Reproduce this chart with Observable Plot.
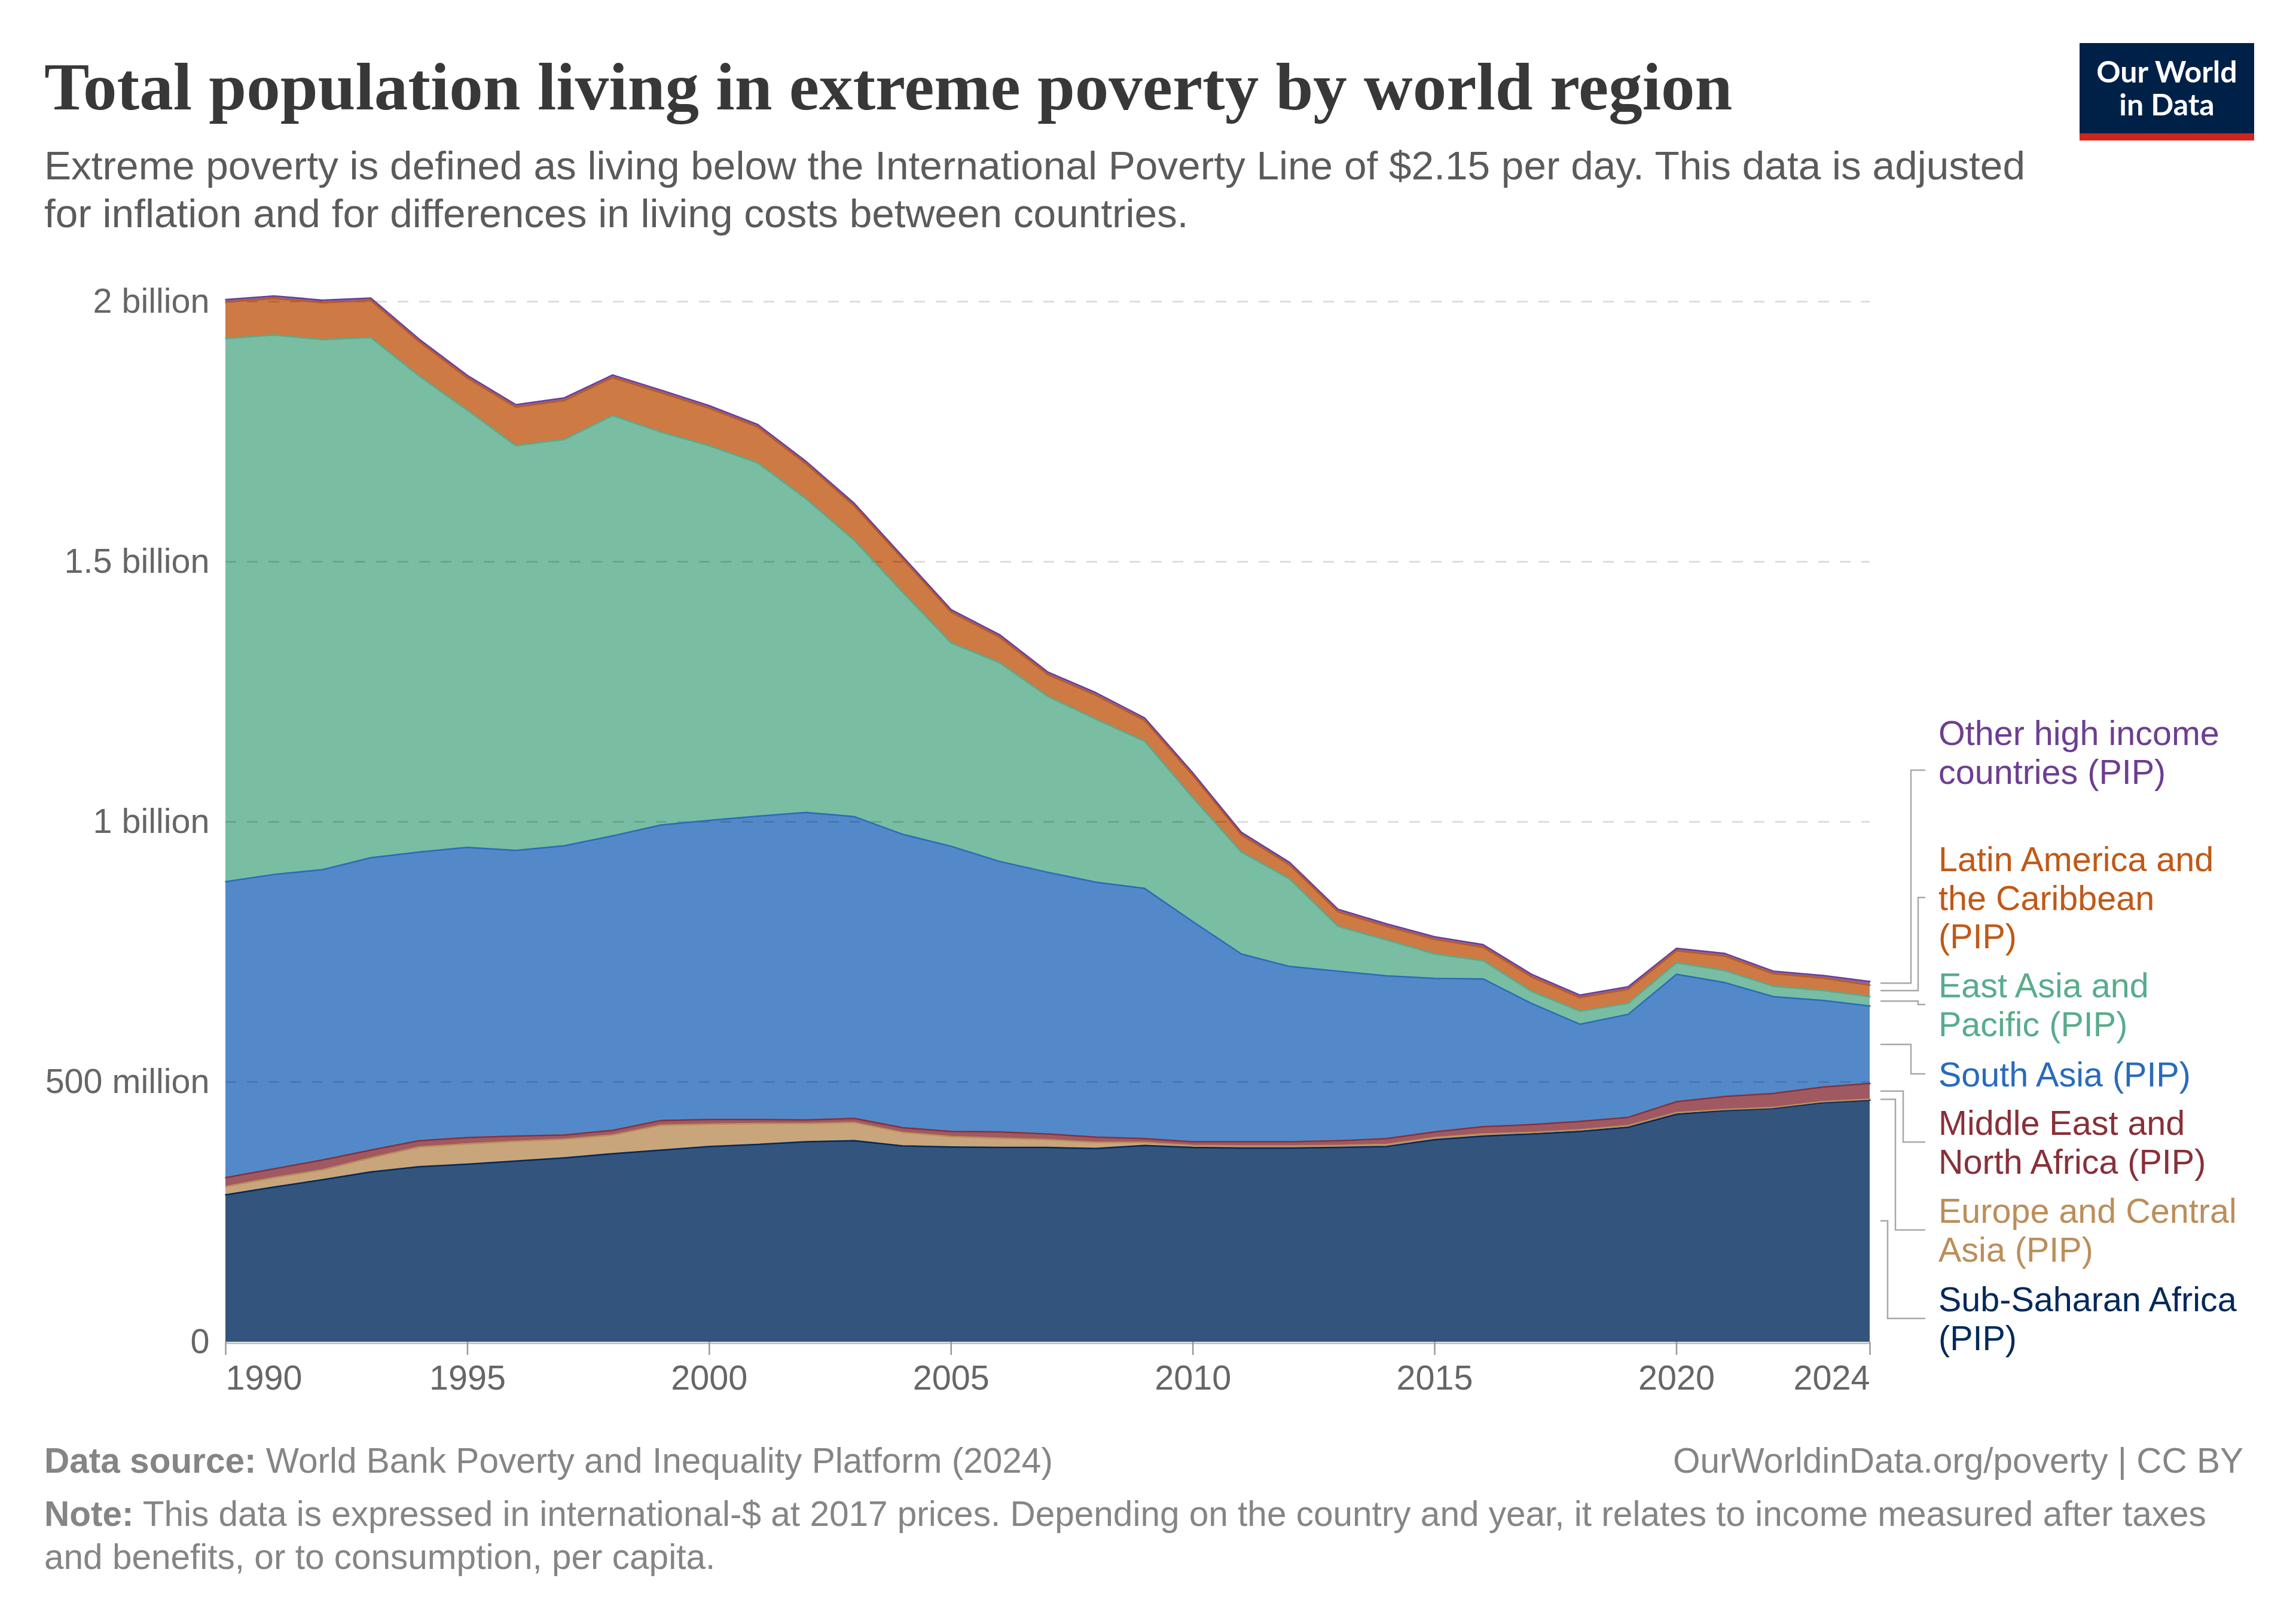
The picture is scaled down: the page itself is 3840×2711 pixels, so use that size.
<!DOCTYPE html>
<html>
<head>
<meta charset="utf-8">
<script src="https://cdn.jsdelivr.net/npm/d3@7"></script>
<script src="https://cdn.jsdelivr.net/npm/@observablehq/plot@0.6"></script>
<style>
  html, body { margin: 0; padding: 0; background: #fff; }
  #page { position: relative; width: 3840px; height: 2711px; overflow: hidden; background: #fff;
          font-family: "Liberation Sans", Arial, Helvetica, sans-serif; }
  .abs { position: absolute; white-space: nowrap; left: 0; top: 0; }
  .line { display: block; white-space: nowrap; }
  .title { font-family: "Liberation Serif", "DejaVu Serif", serif; font-weight: 700; color: #383838; }
  .subtitle { color: #5b5b5b; }
  .foot { color: #858585; }
  .foot b { font-weight: 700; }
  .logotext { font-family: Lato, "Liberation Sans", sans-serif; font-weight: 700; color: #fff; text-align: center; }
  #logo { position: absolute; left: 3478px; top: 72px; width: 292px; height: 163px; background: #002147; }
  #logo .bar { position: absolute; left: 0; right: 0; bottom: 0; height: 12px; background: #ce261e; }
  #chart { position: absolute; left: 0; top: 430px; }
</style>
</head>
<body>
<div id="page"><div id="logo"><div class="bar"></div></div><div id="chart"></div></div>
<script>
// ---------------- data (millions of people) ----------------
const years = [1990, 1991, 1992, 1993, 1994, 1995, 1996, 1997, 1998, 1999,
               2000, 2001, 2002, 2003, 2004, 2005, 2006, 2007, 2008, 2009,
               2010, 2011, 2012, 2013, 2014, 2015, 2016, 2017, 2018, 2019,
               2020, 2021, 2022, 2023, 2024];

const regions = [
  "Sub-Saharan Africa (PIP)",
  "Europe and Central Asia (PIP)",
  "Middle East and North Africa (PIP)",
  "South Asia (PIP)",
  "East Asia and Pacific (PIP)",
  "Latin America and the Caribbean (PIP)",
  "Other high income countries (PIP)"
];

const regionColors = ["#00295B", "#BC8E5A", "#883039", "#286BBB", "#58AC8C", "#C05917", "#6D3E91"];

const subSaharanAfrica = [283, 298, 312, 327, 337, 342, 348, 354, 362, 369,
                          376, 380, 385, 387, 377, 375, 374, 374, 372, 378,
                          374, 373, 373, 374, 376, 389, 396, 400, 405, 413,
                          438, 445, 449, 460, 465];
const europeCentralAsia = [16, 18, 19, 27, 38, 39, 38, 36, 36, 48,
                           43, 40, 35, 35, 26, 20, 18, 15, 12, 6,
                           4, 4, 4, 4, 4, 4, 4, 3, 3, 3,
                           3, 2, 2, 2, 2];
const middleEastNorthAfrica = [17, 17, 19, 15, 12, 12, 10, 8, 9, 9,
                               9, 8, 7, 8, 9, 10, 12, 11, 10, 7,
                               7, 8, 8, 9, 11, 11, 14, 15, 16, 16,
                               21, 25, 27, 28, 30];
const southAsia = [569, 566, 558, 562, 555, 558, 549, 556, 566, 568,
                   575, 583, 591, 580, 564, 548, 520, 503, 490, 481,
                   423, 361, 337, 326, 313, 295, 284, 233, 187, 198,
                   245, 219, 186, 167, 149];
const eastAsiaPacific = [1044, 1037, 1019, 1000, 915, 840, 778, 781, 808, 755,
                         720, 679, 603, 531, 465, 391, 382, 338, 313, 283,
                         238, 196, 168, 86, 69, 47, 35, 23, 25, 21,
                         22, 23, 20, 19, 18];
const latinAmericaCaribbean = [70, 70, 71, 71, 66, 62, 74, 75, 73, 76,
                               72, 69, 67, 66, 64, 59, 49, 42, 46, 40,
                               43, 33, 27, 28, 26, 28, 26, 28, 26, 27,
                               23, 28, 24, 24, 22];
const otherHighIncome = [5, 5, 5, 5, 5, 5, 5, 5, 5, 5,
                         5, 5, 5, 5, 5, 5, 5, 5, 5, 5,
                         5, 5, 5, 5, 5, 5, 5, 5, 5, 5,
                         5, 5, 5, 5, 7];

const yTicks = [0, 500e6, 1e9, 1.5e9, 2e9];
const yTickLabels = ["0", "500 million", "1 billion", "1.5 billion", "2 billion"];
const xTicks = [1990, 1995, 2000, 2005, 2010, 2015, 2020, 2024];

const labelLines = [
  ["Sub-Saharan Africa", "(PIP)"],
  ["Europe and Central", "Asia (PIP)"],
  ["Middle East and", "North Africa (PIP)"],
  ["South Asia (PIP)"],
  ["East Asia and", "Pacific (PIP)"],
  ["Latin America and", "the Caribbean", "(PIP)"],
  ["Other high income", "countries (PIP)"]
];

// ---------------- layout (pixels) ----------------
const SVG_TOP = 430;
const layout = {
  // label block centre y, connector end y, connector elbow x (page coords)
  labels: [
    {center: 2205, end: 2205, elbow: 3157},
    {center: 2057, end: 2057, elbow: 3170},
    {center: 1910, end: 1910, elbow: 3183},
    {center: 1796, end: 1796, elbow: 3196},
    {center: 1680, end: 1680, elbow: 3208},
    {center: 1501, end: 1501, elbow: 3208},
    {center: 1258, end: 1288, elbow: 3196}
  ],
  connStart: 3145, connEnd: 3220, labelX: 3242,
  labelSize: 57.5, labelLH: 64.5, labelCap: 41
};

const series = [subSaharanAfrica, europeCentralAsia, middleEastNorthAfrica, southAsia,
                eastAsiaPacific, latinAmericaCaribbean, otherHighIncome];
const rows = regions.flatMap((r, i) => years.map((yr, j) => ({year: yr, region: r, value: series[i][j] * 1e6})));

const page = document.getElementById("page");

// ---------------- text helpers ----------------
function block(lines, cls, fontSize, lineHeight) {
  const el = document.createElement("div");
  el.className = "abs " + cls;
  el.style.fontSize = fontSize + "px";
  el.style.lineHeight = lineHeight + "px";
  for (const t of lines) {
    const d = document.createElement("div");
    d.className = "line";
    const s = document.createElement("span");
    s.innerHTML = t;
    d.appendChild(s);
    el.appendChild(d);
  }
  page.appendChild(el);
  return el;
}
function fitSize(el, idx, target) {
  const s = el.children[idx].lastChild;
  const fs = parseFloat(el.style.fontSize);
  const w = s.getBoundingClientRect().width;
  return fs * target / w;
}
function place(el, x, baseline, anchor) {
  el.style.left = "0px"; el.style.top = "0px";
  const m = document.createElement("span");
  m.style.cssText = "display:inline-block;width:0;height:0;vertical-align:baseline";
  el.children[0].insertBefore(m, el.children[0].firstChild);
  const b = m.getBoundingClientRect().top - el.getBoundingClientRect().top;
  m.remove();
  const w = el.getBoundingClientRect().width;
  el.style.top = (baseline - b) + "px";
  el.style.left = (anchor === "end" ? x - w : anchor === "middle" ? x - w / 2 : x) + "px";
}

// title
const title = block(["Total population living in extreme poverty by world region"], "title", 100, 110);
title.style.fontSize = fitSize(title, 0, 2824) + "px";
title.style.lineHeight = "normal";
place(title, 74, 183);

// subtitle
const subtitle = block([
  "Extreme poverty is defined as living below the International Poverty Line of $2.15 per day. This data is adjusted",
  "for inflation and for differences in living costs between countries."
], "subtitle", 67, 80);
subtitle.style.fontSize = fitSize(subtitle, 0, 3314) + "px";
place(subtitle, 74, 300);

// footer
const note = block([
  "<b>Note:</b> This data is expressed in international-$ at 2017 prices. Depending on the country and year, it relates to income measured after taxes",
  "and benefits, or to consumption, per capita."
], "foot", 57, 72);
const footSize = fitSize(note, 0, 3617);
note.style.fontSize = footSize + "px";
place(note, 74, 2552);
const src = block(["<b>Data source:</b> World Bank Poverty and Inequality Platform (2024)"], "foot", footSize, 72);
place(src, 74, 2463);
const lic = block(["OurWorldinData.org/poverty | CC BY"], "foot", footSize, 72);
place(lic, 3752, 2463, "end");

// logo
const logo1 = block(["Our World"], "logotext", 50, 55);
place(logo1, 3624, 138, "middle");
const logo2 = block(["in Data"], "logotext", 50, 55);
place(logo2, 3624, 193, "middle");

// ---------------- chart ----------------
const chart = Plot.plot({
  width: 3840,
  height: 1950,
  marginLeft: 377,
  marginRight: 713,
  marginTop: 74,
  marginBottom: 136,
  style: {fontFamily: "Liberation Sans, Arial, sans-serif", background: "transparent", overflow: "visible"},
  x: {domain: [1990, 2024], axis: null, label: null},
  y: {domain: [0, 2e9], axis: null, label: null},
  color: {domain: regions, range: regionColors},
  marks: [
    Plot.areaY(rows, {x: "year", y: "value", z: "region", fill: "region", fillOpacity: 0.8, order: null}),
    Plot.gridY(yTicks.slice(1), {stroke: "#000", strokeOpacity: 0.13, strokeWidth: 3, strokeDasharray: "18,18"}),
    Plot.lineY(rows, Plot.stackY2({x: "year", y: "value", z: "region", stroke: "region", strokeWidth: 2.5, order: null})),
    Plot.ruleY([0], {stroke: "#c4c4c4", strokeWidth: 3, dy: 2}),
    Plot.axisY({ticks: yTicks, tickFormat: (d) => yTickLabels[yTicks.indexOf(d)], tickSize: 0, tickPadding: 27,
                fontSize: 57.5, fill: "#666", stroke: "none", label: null}),
    Plot.axisX({ticks: xTicks, tickFormat: () => "", tickSize: 22, stroke: "#999", strokeWidth: 2.5, label: null}),
    Plot.text([xTicks[0]], {x: (d) => d, y: () => 0, dy: 39, lineAnchor: "top", textAnchor: "start",
                            text: (d) => String(d), fontSize: 57.5, fill: "#666"}),
    Plot.text(xTicks.slice(1, -1), {x: (d) => d, y: () => 0, dy: 39, lineAnchor: "top", textAnchor: "middle",
                            text: (d) => String(d), fontSize: 57.5, fill: "#666"}),
    Plot.text([xTicks[xTicks.length - 1]], {x: (d) => d, y: () => 0, dy: 39, lineAnchor: "top", textAnchor: "end",
                            text: (d) => String(d), fontSize: 57.5, fill: "#666"})
  ]
});
document.getElementById("chart").appendChild(chart);

// ---------------- line labels with connectors ----------------
const ySc = chart.scale("y");
const yFn = ySc.apply ? (v) => ySc.apply(v) : d3.scaleLinear(ySc.domain, ySc.range);
const svg = d3.select(chart);
const last = years.length - 1;
let cum = 0;
const g = svg.append("g").attr("text-anchor", "start");
regions.forEach((r, i) => {
  const v = series[i][last] * 1e6;
  const mid = cum + v / 2;
  cum += v;
  const L = layout.labels[i];
  const y0 = yFn(mid);
  const yEnd = L.end - SVG_TOP;
  g.append("path")
    .attr("d", `M${layout.connStart},${y0}H${L.elbow}V${yEnd}H${layout.connEnd}`)
    .attr("fill", "none").attr("stroke", "#a8a8a8").attr("stroke-width", 2.5);
  const n = labelLines[i].length;
  const base1 = L.center - ((n - 1) * layout.labelLH + layout.labelCap) / 2 + layout.labelCap - SVG_TOP;
  const t = g.append("text")
    .attr("x", layout.labelX).attr("y", base1)
    .attr("text-anchor", "start")
    .attr("fill", regionColors[i])
    .attr("font-size", layout.labelSize)
    .attr("font-family", "Liberation Sans, Arial, sans-serif");
  labelLines[i].forEach((ln, k) => {
    t.append("tspan").attr("x", layout.labelX).attr("y", base1 + k * layout.labelLH).text(ln);
  });
});
</script>
</body>
</html>
